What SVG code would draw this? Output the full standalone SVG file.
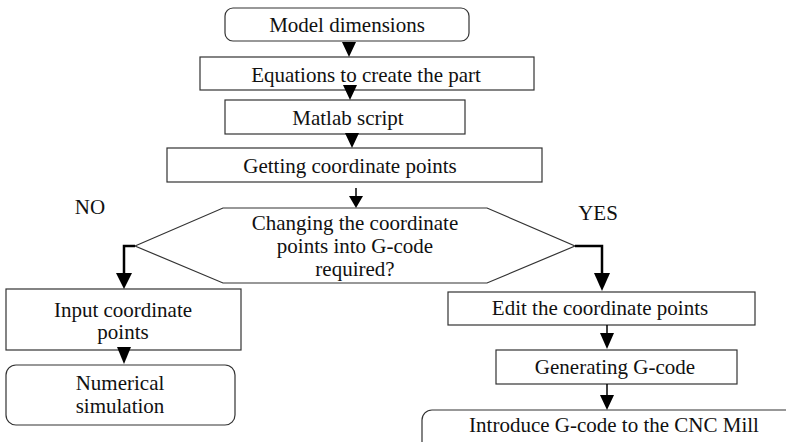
<svg xmlns="http://www.w3.org/2000/svg" width="786" height="442" viewBox="0 0 786 442">
<style>
.b{fill:#fff;stroke:#333;stroke-width:1.2}
.t{font-family:"Liberation Serif","Times New Roman",serif;font-size:21px;fill:#111;text-anchor:middle}
.c{fill:none;stroke:#000;stroke-width:1.5}
.k{fill:none;stroke:#000;stroke-width:2.5}
.h{fill:#000}
</style>
<rect width="786" height="442" fill="#fff"/>
<g id="n1"><rect class="b" x="225" y="8" width="244" height="33" rx="8"/><text class="t" x="347" y="32">Model dimensions</text></g>
<g id="n2"><rect class="b" x="200" y="57" width="334" height="33"/><text class="t" x="366" y="82">Equations to create the part</text></g>
<g id="n3"><rect class="b" x="225" y="100" width="240" height="34"/><text class="t" x="348" y="125">Matlab script</text></g>
<g id="n4"><rect class="b" x="167" y="148" width="375" height="34"/><text class="t" x="350" y="173">Getting coordinate points</text></g>
<g id="n5"><polygon class="b" points="135,246 223,208 487,208 575,246 487,283 223,283"/>
<text class="t" x="355" y="230">Changing the coordinate</text>
<text class="t" x="355" y="253">points into G-code</text>
<text class="t" x="355" y="276">required?</text></g>
<g id="n6"><rect class="b" x="6" y="289" width="235" height="61"/><text class="t" x="123" y="317">Input coordinate</text><text class="t" x="123" y="339">points</text></g>
<g id="n7"><rect class="b" x="6" y="365" width="229" height="60" rx="10"/><text class="t" x="120" y="390">Numerical</text><text class="t" x="120" y="413">simulation</text></g>
<g id="n8"><rect class="b" x="448" y="292" width="307" height="33"/><text class="t" x="600" y="315">Edit the coordinate points</text></g>
<g id="n9"><rect class="b" x="496" y="350" width="241" height="34"/><text class="t" x="615" y="374">Generating G-code</text></g>
<g id="n10"><rect class="b" x="422" y="410" width="400" height="60" rx="10"/><text class="t" x="614" y="432">Introduce G-code to the CNC Mill</text></g>
<g id="labels">
<text class="t" x="90" y="214">NO</text>
<text class="t" x="598" y="220">YES</text>
</g>
<g id="connectors">
<polygon class="h" points="342,42 356,42 349,57"/>
<polygon class="h" points="343,85 357,85 350,100"/>
<polygon class="h" points="345,133 359,133 352,148"/>
<line class="c" x1="356" y1="188" x2="356" y2="198"/>
<polygon class="h" points="349,196 363,196 356,208"/>
<polyline class="k" points="135,246 124,246 124,274"/>
<polygon class="h" points="116,273 132,273 124,289"/>
<polyline class="k" points="575,246 602,246 602,275"/>
<polygon class="h" points="594,273 610,273 602,291"/>
<polygon class="h" points="117,347 131,347 124,364"/>
<line class="c" x1="607" y1="325" x2="607" y2="334"/>
<polygon class="h" points="600,333 614,333 607,349"/>
<line class="c" x1="607" y1="384" x2="607" y2="396"/>
<polygon class="h" points="600,395 614,395 607,410"/>
</g>
</svg>
